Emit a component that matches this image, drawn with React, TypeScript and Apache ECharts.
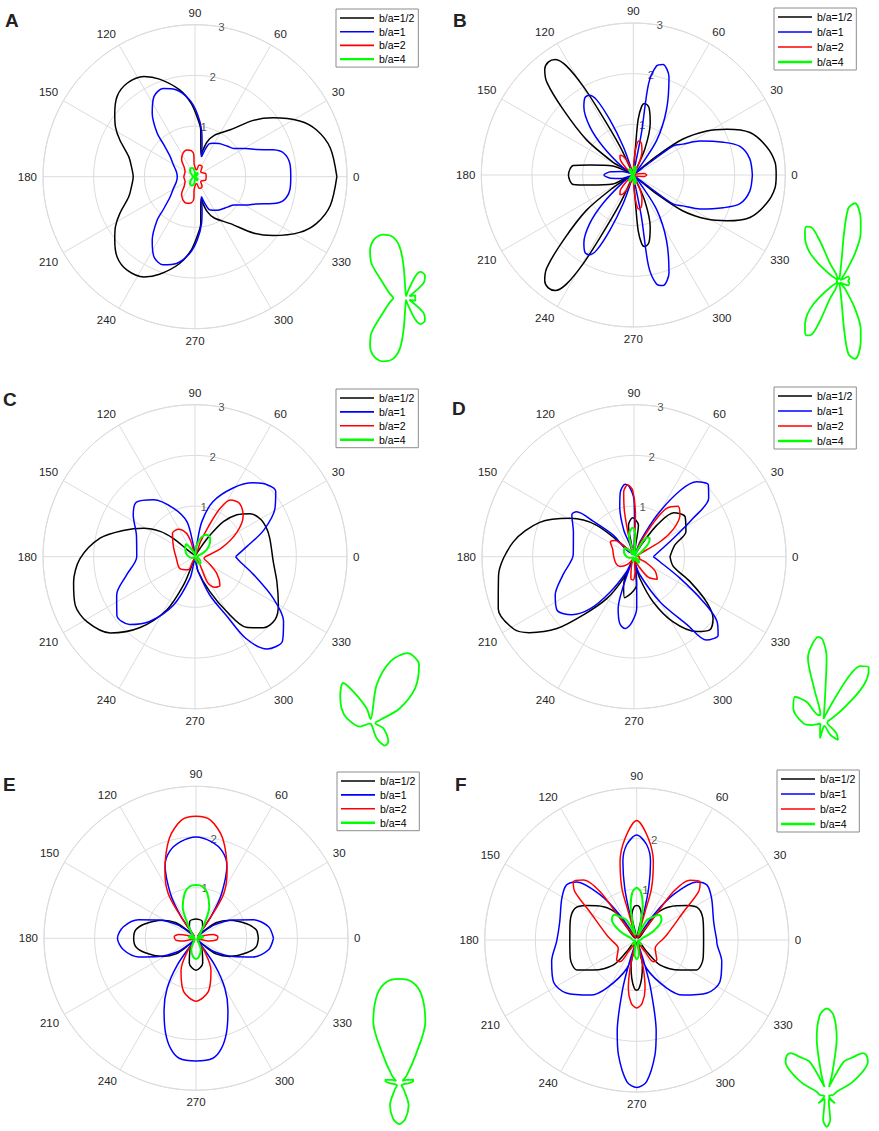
import React, { useEffect, useRef } from "react";
import * as echarts from "echarts";

// ---------- data: each curve is a list of [angle (deg), radius] in drawing order ----------
const NAMES = ["b/a=1/2", "b/a=1", "b/a=2", "b/a=4"];
const RINGS_ABCD = [1, 2, 3];
const RINGS_EF = [1, 2];

const A_K = [[0,2.80],[12,2.73],[21,2.57],[28,2.34],[37,1.93],[44,1.60],[53,1.16],[65,0.90],[71,0.72],[75,0.45],[80,0.66],[83,0.93],[88,1.18],[93,1.45],[100,1.74],[110,2.05],[117,2.22],[126,2.28],[134,2.21],[142,2.01],[148,1.85],[154,1.65],[163,1.37],[171,1.27],[180,1.22],[189,1.27],[197,1.37],[206,1.65],[212,1.85],[218,2.01],[226,2.21],[234,2.28],[243,2.22],[250,2.05],[260,1.74],[267,1.45],[272,1.18],[277,0.93],[280,0.66],[285,0.45],[289,0.72],[295,0.90],[307,1.16],[316,1.60],[323,1.93],[332,2.34],[339,2.57],[348,2.73],[360,2.80]];
const A_B = [[0,1.89],[8,1.89],[15,1.81],[19,1.63],[24,1.32],[29,1.15],[36,0.95],[43,0.88],[54,0.81],[62,0.75],[67,0.70],[70,0.55],[72,0.41],[78,0.67],[82,0.93],[88,1.25],[94,1.52],[102,1.75],[110,1.85],[117,1.78],[124,1.51],[131,1.14],[134,0.90],[141,0.63],[150,0.50],[165,0.38],[180,0.35],[195,0.38],[210,0.50],[219,0.63],[226,0.90],[229,1.14],[236,1.51],[243,1.78],[250,1.85],[258,1.75],[266,1.52],[272,1.25],[278,0.93],[282,0.67],[288,0.41],[290,0.55],[293,0.70],[298,0.75],[306,0.81],[317,0.88],[324,0.95],[331,1.15],[336,1.32],[341,1.63],[345,1.81],[352,1.89],[360,1.89]];
const A_R = [[0,0.22],[17,0.22],[30,0.16],[41,0.15],[54,0.24],[65,0.25],[71,0.24],[76,0.14],[85,0.15],[94,0.26],[93,0.43],[98,0.52],[107,0.55],[117,0.52],[128,0.43],[138,0.29],[153,0.22],[180,0.22],[207,0.22],[222,0.29],[232,0.43],[243,0.52],[253,0.55],[262,0.52],[267,0.43],[266,0.26],[275,0.15],[284,0.14],[289,0.24],[295,0.25],[306,0.24],[319,0.15],[330,0.16],[343,0.22],[360,0.22]];
const A_G = [[0,0.025],[15,0.027],[30,0.011],[40,0.062],[50,0.081],[61,0.082],[67,0.063],[75,0.018],[88,0.005],[94,0.039],[94.5,0.094],[97,0.141],[102,0.171],[110,0.185],[118,0.184],[127,0.164],[135,0.134],[148,0.073],[165,0.046],[180,0.035],[195,0.046],[212,0.073],[225,0.134],[233,0.164],[242,0.184],[250,0.185],[258,0.171],[263,0.141],[265.5,0.094],[266,0.039],[272,0.005],[285,0.018],[293,0.063],[299,0.082],[310,0.081],[320,0.062],[330,0.011],[345,0.027],[360,0.025]];

const B_K = [[0,2.82],[5,2.81],[12,2.69],[20,2.45],[26,2.06],[31,1.69],[36,1.2],[39,0.6],[41,0.1],[52,0.03],[62,0.08],[66,0.56],[72,1.08],[77,1.37],[81,1.43],[83,1.37],[85,1.10],[85.5,0.64],[87,0.1],[100,0.03],[112,0.1],[115,0.63],[118,1.40],[119.5,2.02],[121.5,2.52],[124,2.75],[127,2.79],[130,2.72],[133,2.50],[137,1.89],[143,1.16],[148,0.46],[151,0.1],[153,0.1],[156,0.44],[167,0.88],[171,1.2],[180,1.28],[189,1.2],[193,0.88],[204,0.44],[207,0.1],[209,0.1],[212,0.46],[217,1.16],[223,1.89],[227,2.50],[230,2.72],[233,2.79],[236,2.75],[238.5,2.52],[240.5,2.02],[242,1.40],[245,0.63],[248,0.1],[260,0.03],[273,0.1],[274.5,0.64],[275,1.10],[277,1.37],[279,1.43],[283,1.37],[288,1.08],[294,0.56],[298,0.08],[308,0.03],[319,0.1],[321,0.6],[324,1.2],[329,1.69],[334,2.06],[340,2.45],[348,2.69],[355,2.81],[360,2.82]];
const B_B = [[0,2.35],[8,2.32],[15,2.18],[20,1.89],[27,1.48],[32,1.15],[36,0.98],[37,0.41],[39,0.05],[46,0.03],[51,0.21],[56,0.83],[63,1.44],[70,2.06],[75,2.26],[78,2.2],[80.5,1.83],[79,0.84],[80,0.1],[100,0.03],[107,0.1],[109.5,0.59],[113,1.18],[116,1.65],[119,1.80],[122,1.80],[126,1.66],[132,1.28],[137,0.81],[144,0.28],[147,0.05],[155,0.05],[163,0.23],[172,0.45],[180,0.58],[188,0.45],[197,0.23],[205,0.05],[213,0.05],[216,0.28],[223,0.81],[228,1.28],[234,1.66],[238,1.80],[241,1.80],[244,1.65],[247,1.18],[250.5,0.59],[253,0.1],[260,0.03],[280,0.1],[281,0.84],[279.5,1.83],[282,2.2],[285,2.26],[290,2.06],[297,1.44],[304,0.83],[309,0.21],[314,0.03],[321,0.05],[323,0.41],[324,0.98],[328,1.15],[333,1.48],[340,1.89],[345,2.18],[352,2.32],[360,2.35]];
const B_R = [[0,0.27],[8,0.22],[15,0.10],[25,0.02],[55,0.02],[65,0.30],[70,0.5],[76,0.65],[81,0.68],[85,0.5],[88,0.2],[92,0.02],[105,0.03],[112,0.25],[118,0.42],[124,0.47],[130,0.40],[136,0.2],[142,0.03],[180,0.02],[218,0.03],[224,0.2],[230,0.40],[236,0.47],[242,0.42],[248,0.25],[255,0.03],[268,0.02],[272,0.2],[275,0.5],[279,0.68],[284,0.65],[290,0.5],[295,0.30],[305,0.02],[335,0.02],[345,0.10],[352,0.22],[360,0.27]];
const B_G = [[0,0.02],[12,0.024],[25,0.023],[35,0.005],[48,0.005],[52,0.022],[60,0.073],[65.6,0.119],[70.4,0.147],[75,0.171],[78.4,0.18],[82.7,0.166],[84,0.109],[83,0.048],[85,0.005],[108,0.005],[113,0.02],[117,0.045],[115.5,0.103],[117.5,0.138],[121,0.144],[125.5,0.133],[131,0.115],[136,0.091],[140,0.059],[145,0.02],[150,0.005],[180,0.005],[210,0.005],[215,0.02],[220,0.059],[224,0.091],[229,0.115],[234.5,0.133],[239,0.144],[242.5,0.138],[244.5,0.103],[243,0.045],[247,0.02],[252,0.005],[275,0.005],[277,0.048],[276,0.109],[277.3,0.166],[281.6,0.18],[285,0.171],[289.6,0.147],[294.4,0.119],[300,0.073],[308,0.022],[312,0.005],[325,0.005],[335,0.023],[348,0.024],[360,0.02]];

const C_K = [[0,1.53],[14,1.52],[22,1.52],[30,1.49],[38,1.38],[45,1.17],[51,0.89],[55,0.52],[59,0.19],[80,0.02],[120,0.02],[138,0.21],[140,0.56],[144,0.85],[151,1.16],[160,1.51],[169,1.91],[181,2.27],[192,2.45],[202,2.55],[211,2.49],[222,2.25],[232,1.78],[242,1.19],[248,0.60],[251,0.14],[265,0.02],[282,0.30],[293,0.75],[300,1.25],[306,1.72],[314,1.95],[322,2.01],[330,1.90],[343,1.69],[356,1.55],[360,1.53]];
const C_B = [[0,0.80],[11,1.04],[21,1.45],[31,1.84],[39,2.05],[45,2.01],[52,1.85],[61,1.55],[72,1.14],[79,0.70],[82,0.23],[90,0.05],[98,0.23],[103,0.71],[114,1.05],[126,1.39],[137,1.58],[146,1.47],[160,1.23],[180,1.15],[195,1.40],[206,1.72],[217,1.93],[226,1.86],[235,1.56],[246,1.05],[257,0.44],[270,0.08],[282,0.30],[291,0.81],[298,1.31],[302,1.91],[308,2.31],[316,2.40],[324,2.16],[332,1.75],[343,1.21],[354,0.89],[360,0.80]];
const C_R = [[0,0.2],[19,0.57],[30,0.95],[40,1.24],[50,1.37],[58,1.32],[62.6,1.07],[66,0.65],[70,0.3],[76,0.05],[95,0.05],[105,0.3],[110,0.49],[121,0.63],[134,0.64],[155,0.47],[185,0.37],[218,0.38],[243,0.29],[255,0.05],[288,0.05],[296,0.57],[303,0.72],[311,0.75],[322,0.55],[335,0.30],[350,0.18],[360,0.2]];
const C_G = [[0,0.03],[14,0.06],[25.5,0.20],[37.5,0.35],[50,0.47],[62,0.49],[72,0.40],[81,0.235],[88,0.02],[100,0.03],[106,0.09],[119.5,0.22],[125,0.30],[138,0.256],[155,0.2],[170,0.152],[202,0.072],[240,0.01],[280,0.01],[290.6,0.106],[301.6,0.171],[312,0.164],[334.6,0.0875],[350,0.03],[360,0.03]];

const D_K = [[0,0.71],[16,0.84],[26,1.14],[38,1.28],[48,1.17],[54,0.77],[58,0.3],[65,0.05],[78,0.1],[82,0.63],[92,0.77],[100,0.63],[106,0.1],[122,0.05],[131,0.22],[140,0.97],[149,1.47],[160,1.98],[173,2.40],[188,2.70],[201,2.87],[211,2.77],[216,2.55],[223,2.08],[229,1.52],[237,0.98],[244,0.48],[246,0.12],[250,0.6],[257,0.83],[266,0.72],[275,0.56],[279,0.1],[285,0.44],[293,0.97],[301,1.50],[310,1.93],[316,2.08],[322,1.98],[328,1.69],[336,1.21],[346,0.80],[360,0.71]];
const D_B = [[0,0.38],[25,0.86],[33,1.39],[38,1.87],[44,2.04],[50,1.93],[55,1.60],[61,0.94],[68,0.32],[78,0.05],[88,0.1],[89,0.6],[90,1.12],[94,1.39],[97,1.44],[102,1.3],[106,1.02],[111,0.57],[116,0.1],[126,0.1],[134,0.59],[139,1.06],[142,1.44],[146,1.48],[158,1.29],[178,1.20],[194,1.44],[206,1.73],[215,1.85],[223,1.68],[230,1.34],[236,0.84],[244,0.33],[247,0.1],[250,0.6],[253,1.07],[258,1.35],[263,1.43],[268,1.3],[273,1.02],[276,0.5],[279,0.1],[288,0.38],[300,1.03],[308,1.70],[311,2.18],[317,2.27],[322,2.08],[327,1.63],[335,1.00],[349,0.52],[360,0.38]];
const D_R = [[0,0.12],[15,0.05],[25,0.1],[30,0.6],[35,0.95],[42,1.22],[49,1.32],[56,1.15],[60,0.8],[66,0.3],[75,0.05],[86,0.1],[88,0.8],[91,1.3],[95,1.42],[99,1.3],[102,0.9],[106,0.3],[115,0.05],[130,0.2],[140,0.5],[148,0.55],[160,0.45],[180,0.40],[200,0.38],[215,0.34],[230,0.2],[245,0.05],[255,0.2],[262,0.44],[268,0.46],[274,0.3],[280,0.05],[295,0.2],[305,0.5],[316,0.64],[326,0.5],[335,0.25],[345,0.1],[360,0.12]];
const D_G = [[0,0.03],[15,0.05],[30,0.134],[40,0.33],[46,0.44],[50,0.48],[56,0.45],[60,0.35],[63,0.15],[75,0.02],[80,0.05],[85,0.2],[86.5,0.43],[90,0.55],[93,0.57],[98,0.52],[103,0.44],[104.5,0.21],[108,0.05],[120,0.05],[129,0.17],[138,0.25],[156,0.216],[185,0.13],[197,0.077],[220,0.02],[250,0.05],[261,0.113],[270,0.05],[290,0.03],[300,0.1],[310,0.16],[320,0.12],[335,0.04],[360,0.03]];

const E_K = [[0,1.23],[8,1.2],[16,1.04],[28,0.76],[38,0.5],[43,0.2],[50,0.05],[60,0.26],[70,0.36],[90,0.38],[110,0.36],[120,0.26],[130,0.05],[137,0.2],[142,0.5],[152,0.76],[164,1.04],[172,1.2],[180,1.23],[188,1.2],[196,1.04],[208,0.76],[218,0.5],[223,0.2],[230,0.05],[243,0.26],[255,0.51],[270,0.63],[285,0.51],[297,0.26],[310,0.05],[317,0.2],[322,0.5],[332,0.76],[344,1.04],[352,1.2],[360,1.23]];
const E_B = [[0,1.53],[9,1.45],[18,1.19],[26,0.82],[36,0.45],[42,0.15],[48,0.05],[52,0.1],[56,0.56],[60,1.0],[67,1.56],[73,1.79],[81,1.93],[90,2.0],[99,1.93],[107,1.79],[113,1.56],[120,1.0],[124,0.56],[128,0.1],[132,0.05],[138,0.15],[144,0.45],[154,0.82],[162,1.19],[171,1.45],[180,1.55],[189,1.45],[198,1.19],[206,0.82],[216,0.45],[222,0.15],[228,0.05],[232,0.1],[235,0.65],[240,1.14],[246,1.55],[252,1.95],[257,2.23],[262,2.39],[270,2.42],[278,2.39],[283,2.23],[288,1.95],[294,1.55],[300,1.14],[305,0.65],[308,0.1],[312,0.05],[318,0.15],[324,0.45],[334,0.82],[342,1.19],[351,1.45],[360,1.53]];
const E_R = [[0,0.43],[5,0.43],[12,0.35],[20,0.15],[26,0.05],[48,0.05],[52,0.1],[55,0.5],[58,1.03],[65,1.45],[75,2.04],[83,2.35],[90,2.41],[97,2.35],[105,2.04],[115,1.45],[122,1.03],[125,0.5],[128,0.1],[132,0.05],[154,0.05],[160,0.15],[168,0.35],[175,0.43],[185,0.4],[192,0.25],[200,0.05],[230,0.05],[236,0.3],[245,0.7],[257,1.08],[270,1.24],[283,1.08],[295,0.7],[304,0.3],[310,0.05],[340,0.05],[348,0.25],[355,0.4],[360,0.43]];
const E_G = [[0,0.09],[8,0.14],[15,0.145],[25,0.08],[38,0.04],[47,0.11],[60,0.33],[67,0.67],[76,0.92],[83,1.03],[90,1.05],[97,1.03],[104,0.92],[113,0.67],[120,0.33],[133,0.11],[142,0.04],[155,0.08],[165,0.145],[172,0.14],[180,0.09],[195,0.04],[220,0.03],[235,0.08],[247,0.24],[260,0.36],[270,0.41],[280,0.36],[293,0.24],[305,0.08],[320,0.03],[345,0.04],[360,0.09]];

const F_K = [[0,1.32],[15,1.36],[27,1.37],[34.5,1.20],[45,0.93],[53,0.66],[52,0.3],[56,0.05],[74,0.05],[79,0.5],[85,0.65],[90,0.68],[95,0.65],[101,0.5],[106,0.05],[124,0.05],[128,0.3],[127,0.66],[135,0.93],[145.5,1.20],[153,1.37],[165,1.36],[180,1.32],[195.4,1.36],[206.6,1.32],[214.7,1.04],[227,0.67],[229.4,0.3],[234,0.05],[252,0.05],[257,0.5],[262.6,0.76],[267,0.95],[270,0.99],[273,0.95],[277.4,0.76],[283,0.5],[288,0.05],[306,0.05],[310.6,0.3],[313,0.67],[325.3,1.04],[333.4,1.32],[344.6,1.36],[360,1.32]];
const F_B = [[0,1.58],[13,1.56],[29,1.69],[38,1.76],[44,1.65],[51,1.15],[56,0.59],[60,0.1],[72,0.05],[75,0.51],[77,1.05],[80,1.57],[84,1.89],[90,2.07],[96,1.89],[100,1.57],[103,1.05],[105,0.51],[108,0.05],[120,0.1],[124,0.59],[129,1.15],[136,1.65],[142,1.76],[151,1.69],[167,1.56],[181,1.58],[194,1.73],[207,1.84],[217,1.74],[230,1.42],[238,1.12],[251,0.59],[250,0.1],[252,0.5],[254,1.0],[258,1.85],[261,2.30],[266,2.80],[270,2.91],[274,2.80],[279,2.30],[282,1.85],[286,1.0],[288,0.5],[290,0.1],[289,0.59],[302,1.12],[310,1.42],[323,1.74],[333,1.84],[346,1.73],[359,1.58],[360,1.58]];
const F_R = [[0,0.5],[9.5,0.60],[31,1.08],[38,1.55],[42.6,1.70],[48.4,1.58],[52.8,1.20],[52.4,0.54],[56,0.1],[70,0.05],[73.5,0.58],[74,1.06],[78,1.58],[83.5,2.02],[90,2.36],[96.5,2.02],[102,1.58],[106,1.06],[106.5,0.58],[110,0.05],[124,0.1],[127.6,0.54],[127.2,1.20],[131.4,1.58],[137.4,1.70],[142,1.55],[149,1.08],[170.5,0.60],[180,0.5],[204.4,0.40],[225,0.56],[232.4,0.54],[234.5,0.28],[240,0.05],[250,0.1],[256.8,0.57],[260.2,0.97],[265,1.25],[270,1.34],[275,1.25],[279.8,0.97],[283.2,0.57],[290,0.1],[300,0.05],[305.5,0.28],[307.6,0.54],[315,0.56],[335.6,0.40],[360,0.5]];
const F_G = [[0,0.08],[18,0.125],[27,0.355],[39,0.63],[45,0.67],[49,0.66],[55,0.55],[63,0.44],[70,0.15],[74,0.1],[76,0.29],[80,0.685],[85,0.95],[90,1.03],[95,0.95],[100,0.685],[104,0.29],[106,0.1],[110,0.15],[117,0.44],[125,0.55],[131,0.66],[135,0.67],[141,0.63],[153,0.355],[162,0.125],[180,0.08],[205,0.03],[225,0.14],[240,0.05],[255,0.1],[262,0.3],[270,0.38],[278,0.3],[285,0.1],[300,0.05],[315,0.14],[335,0.03],[360,0.08]];

const CURVES = [
  [A_K, A_B, A_R, A_G],
  [B_K, B_B, B_R, B_G],
  [C_K, C_B, C_R, C_G],
  [D_K, D_B, D_R, D_G],
  [E_K, E_B, E_R, E_G],
  [F_K, F_B, F_R, F_G],
];
const RINGS = [RINGS_ABCD, RINGS_ABCD, RINGS_ABCD, RINGS_ABCD, RINGS_EF, RINGS_EF];
const LETTERS = ["A", "B", "C", "D", "E", "F"];

// ---------- layout / style ----------
const LAYOUT = [
  { cx: 195, cy: 176.7, lx: 336, ly: 9, gap: 13.7, tx: 5, ty: 20.5, ix: 406, iy: 298, is: 364 },
  { cx: 633.3, cy: 175, lx: 774, ly: 8, gap: 15, tx: 453, ty: 20, ix: 839, iy: 281, is: 441 },
  { cx: 195, cy: 556.7, lx: 336, ly: 389, gap: 13.9, tx: 3, ty: 399.5, ix: 370.7, iy: 722.3, is: 160 },
  { cx: 634, cy: 556.7, lx: 774, ly: 387, gap: 15, tx: 452, ty: 408, ix: 822.7, iy: 721.7, is: 149 },
  { cx: 196, cy: 938.3, lx: 337, ly: 772, gap: 13.9, tx: 3, ty: 784.5, ix: 399.3, iy: 1083.3, is: 99.4 },
  { cx: 636.7, cy: 940, lx: 777, ly: 770, gap: 15, tx: 455, ty: 784.5, ix: 826.7, iy: 1095, is: 84 },
];
const R_MAIN = 152;
const R_INSET = 125;
const COLORS = ["#000000", "#0000ff", "#ff0000", "#00ff00"];
const WIDTHS = [1.5, 1.5, 1.5, 2];
const LEGEND_ICONS = [
  "path://M0,0H34V1.6H0Z",
  "path://M0,0H34V1.6H0Z",
  "path://M0,0H34V1.6H0Z",
  "path://M0,0H34V2.4H0Z",
];
const GRID = "#dcdcdc";
const TXT = "#262626";
const FONT = '"Liberation Sans", Arial, Helvetica, sans-serif';
const RING_LABEL_ANGLE = 80;

function toPolar(arr: number[][]) {
  return arr.map(([t, r]) => [r, t]);
}

function buildOption() {
  const polar: any[] = [];
  const angleAxis: any[] = [];
  const radiusAxis: any[] = [];
  const series: any[] = [];
  const legend: any[] = [];
  const graphic: any[] = [];

  LAYOUT.forEach((p, i) => {
    polar.push({ center: [p.cx, p.cy], radius: R_MAIN });
    angleAxis.push({
      polarIndex: i, type: "value", min: 0, max: 360, interval: 30,
      startAngle: 0, clockwise: false,
      axisLine: { show: true, lineStyle: { color: GRID, width: 1 } },
      axisTick: { show: false },
      axisLabel: { show: true, margin: 6, color: TXT, fontSize: 11.5, fontFamily: FONT },
      splitLine: { show: true, lineStyle: { color: GRID, width: 1 } },
    });
    radiusAxis.push({
      polarIndex: i, type: "value", min: 0, max: 3, interval: 1,
      axisLine: { show: false }, axisTick: { show: false }, axisLabel: { show: false },
      splitLine: { show: true, lineStyle: { color: GRID, width: 1 } },
    });
  });
  LAYOUT.forEach((p, i) => {
    polar.push({ center: [p.ix, p.iy], radius: R_INSET });
    angleAxis.push({
      polarIndex: 6 + i, type: "value", min: 0, max: 360, startAngle: 0, clockwise: false, show: false,
    });
    radiusAxis.push({ polarIndex: 6 + i, type: "value", min: 0, max: R_INSET / p.is, show: false });
  });

  CURVES.forEach((curves, i) => {
    curves.forEach((c, k) => {
      series.push({
        type: "line", name: NAMES[k], coordinateSystem: "polar", polarIndex: i,
        data: toPolar(c), symbol: "none", smooth: 0.3, clip: false,
        lineStyle: { color: COLORS[k], width: WIDTHS[k] },
        itemStyle: { color: COLORS[k] }, z: 3 + k,
      });
    });
    series.push({
      type: "scatter", coordinateSystem: "polar", polarIndex: i, silent: true,
      data: RINGS[i].map((r) => [r, RING_LABEL_ANGLE]), symbolSize: 1,
      itemStyle: { color: "rgba(0,0,0,0)" },
      label: {
        show: true, position: "inside", color: TXT, fontSize: 11.5, fontFamily: FONT,
        formatter: (q: any) => String(q.value[0]),
      },
      z: 2,
    });
    series.push({
      type: "line", name: "inset " + LETTERS[i], coordinateSystem: "polar", polarIndex: 6 + i,
      data: toPolar(curves[3]), symbol: "none", smooth: 0.3, clip: false,
      lineStyle: { color: COLORS[3], width: 1.8 }, itemStyle: { color: COLORS[3] },
    });
    const p = LAYOUT[i];
    legend.push({
      orient: "vertical", left: p.lx, top: p.ly, itemWidth: 34, itemHeight: 12,
      itemGap: p.gap - 12, padding: [3, 4, 2, 4], borderColor: "#8c8c8c", borderWidth: 1,
      backgroundColor: "#ffffff", selectedMode: false, symbolKeepAspect: true,
      textStyle: { fontSize: 10.5, color: "#000", fontFamily: FONT, lineHeight: 12 },
      data: NAMES.map((n, k) => ({ name: n, icon: LEGEND_ICONS[k], itemStyle: { color: COLORS[k], borderWidth: 0 } })),
    });
    graphic.push({
      type: "text", x: p.tx, y: p.ty,
      style: {
        text: LETTERS[i], fontSize: 19, fontWeight: "bold", fontFamily: FONT,
        fill: "#222222", align: "left", verticalAlign: "middle",
      },
    });
  });

  return {
    animation: false,
    backgroundColor: "#ffffff",
    polar, angleAxis, radiusAxis, series, legend, graphic,
  };
}

export default function App() {
  const ref = useRef<HTMLDivElement>(null);
  useEffect(() => {
    document.body.style.margin = "0";
    const chart = echarts.init(ref.current!, null, { renderer: "svg" });
    chart.setOption(buildOption() as any);
    return () => chart.dispose();
  }, []);
  return <div ref={ref} style={{ width: 879, height: 1131 }} />;
}
